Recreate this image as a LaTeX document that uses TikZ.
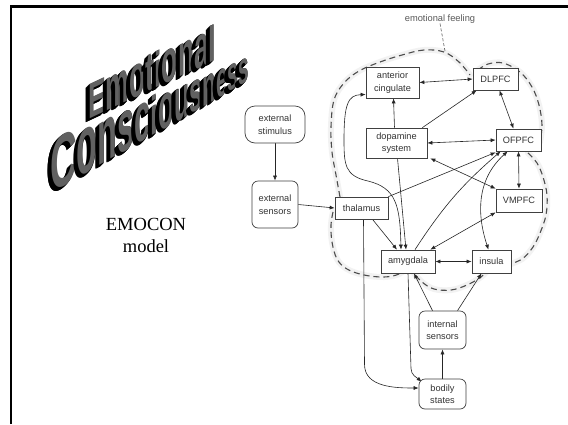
\documentclass[tikz,border=0pt]{standalone}
\usepackage{fontspec}
\setmainfont{Liberation Sans}
\newfontfamily\serifface{Liberation Serif}
\newfontfamily\titleface{Liberation Sans}
\usetikzlibrary{arrows.meta,backgrounds}
% one 3D "word art" letter: x, y (baseline-left), size, slant, content
\newcommand\artletter[5]{%
  \foreach \dd in {4,3.5,...,0.5}{%
    \begin{scope}[shift={(#1,#2)},xshift=-\dd pt,yshift=-\dd pt,yslant=#4]
      \node[anchor=base west,inner sep=0pt,transform shape,text=black,
        font=\titleface\bfseries\fontsize{#3}{#3}\selectfont] {#5};
    \end{scope}}%
  \begin{scope}[shift={(#1,#2)},yslant=#4]
    \node[anchor=base west,inner sep=0pt,transform shape,text=black!62,
      font=\titleface\bfseries\fontsize{#3}{#3}\selectfont] {#5};
  \end{scope}}
\begin{document}
\begin{tikzpicture}[x=1pt,y=-1pt,
  >={Latex[length=5pt,width=4pt]},
  box/.style={draw=black!75,line width=0.7pt,fill=white,text=black!80,
    font=\fontsize{9.2}{12.5}\selectfont,align=center,inner sep=0pt},
  rbox/.style={box,rounded corners=6pt},
  conn/.style={draw=black!85,line width=0.6pt},
  cloudline/.style={dash pattern=on 6pt off 4pt,line width=1.1pt,draw=black!70},
  glow/.style={line width=6pt,draw=black!5,line cap=round,line join=round}
]
\useasboundingbox (0,0) rectangle (568,424);

% ---------- nodes ----------
\node[box,minimum width=53pt,minimum height=31pt] (antc) at (392.5,82.5) {anterior\\cingulate};
\node[box,minimum width=45pt,minimum height=22pt] (dlpfc) at (495.5,79) {DLPFC};
\node[box,minimum width=61pt,minimum height=30pt] (dopa) at (396.5,143) {dopamine\\system};
\node[box,minimum width=45pt,minimum height=22pt] (ofpfc) at (518.5,140) {OFPFC};
\node[box,minimum width=46pt,minimum height=23pt] (vmpfc) at (519,200.5) {VMPFC};
\node[box,minimum width=53pt,minimum height=22pt] (thal) at (361.5,208) {thalamus};
\node[box,minimum width=54pt,minimum height=23pt] (amyg) at (408,261.5) {amygdala};
\node[box,minimum width=39pt,minimum height=23pt] (ins) at (491.5,261.5) {insula};
\node[rbox,minimum width=47pt,minimum height=38pt] (intsens) at (442.5,330) {internal\\sensors};
\node[rbox,minimum width=47pt,minimum height=30pt] (bod) at (442.5,394) {bodily\\states};
\node[rbox,rounded corners=10pt,minimum width=60pt,minimum height=37pt] (extstim) at (275,124.5) {external\\stimulus};
\node[rbox,minimum width=46pt,minimum height=47pt] (extsens) at (275,204.5) {external\\sensors};
\node[inner sep=0pt,text=black!65,font=\fontsize{9.3}{11}\selectfont] (ef) at (440,19) {emotional feeling};
\coordinate (eftop) at (445,51);
\node[inner sep=0pt,align=center,font=\serifface\fontsize{18.5}{22}\selectfont] (emocon) at (146,235) {EMOCON\\model};

% ---------- title (word art with perspective) ----------
\gdef\lx{88}
\foreach \ch/\w/\v in {E/0.667/1,m/0.889/1.2,o/0.611/1.2,t/0.333/1.1,i/0.278/1,o/0.611/1.2,n/0.611/1.2,a/0.556/1.2,l/0.278/1}{
  \pgfmathsetmacro\lsz{50}
  \pgfmathsetmacro\lby{120-0.47*(\lx-88)}
  \artletter{\lx}{\lby}{\lsz}{0.47}{\scalebox{0.53}[\v]{\ch}}
  \pgfmathsetmacro\lnx{\lx+\w*\lsz*0.53}
  \xdef\lx{\lnx}
}
\gdef\lx{50}
\foreach \ch/\w/\v in {C/0.722/1,o/0.611/1.2,n/0.611/1.2,s/0.556/1.2,c/0.556/1.2,i/0.278/1,o/0.611/1.2,u/0.611/1.2,s/0.556/1.2,n/0.611/1.2,e/0.556/1.2,s/0.556/1.2,s/0.556/1.2}{
  \pgfmathsetmacro\lsz{74-39*(\lx-50)/200}
  \pgfmathsetmacro\lby{194-0.57*(\lx-50)}
  \artletter{\lx}{\lby}{\lsz}{0.57}{\scalebox{0.5}[\v]{\ch}}
  \pgfmathsetmacro\lnx{\lx+\w*\lsz*0.5}
  \xdef\lx{\lnx}
}

\begin{scope}[on background layer]
\fill[white] (0,0) rectangle (568,424);
% frame
\draw[line width=2.2pt] (11,424) -- (11,6.5) -- (568,6.5);

% cloud glow + dashes
\foreach \st in {glow,cloudline}{
  \draw[\st] plot[smooth,tension=0.6] coordinates {(340,197) (336,175) (332,152) (331,127) (334,100) (344,83) (359,71) (380,62) (402,55) (424,50) (444,52) (459,62) (470,75)};
  \draw[\st] plot[smooth,tension=0.6] coordinates {(478,70) (488,64) (503,63) (520,72) (532,87) (539,105) (542,125) (540,142)};
  \draw[\st] plot[smooth,tension=0.6] coordinates {(528,153) (537,163) (543,177) (547,195) (546,215) (540,233) (533,247) (522,259) (505,266)};
  \draw[\st] plot[smooth,tension=0.6] coordinates {(490,268) (481,277) (467,285) (451,290) (434,289) (422,282) (414,273) (410,265)};
  \draw[\st] plot[smooth,tension=0.6] coordinates {(333,212) (331,225) (332,242) (337,259) (347,269) (364,275) (384,277) (399,274) (409,266)};
}
\draw[black!65,line width=0.6pt,dash pattern=on 3pt off 2pt] (ef.south) -- (eftop);

% connectors
\draw[conn,->] (extstim) -- (extsens);
\draw[conn,->] (extsens.east) -- (thal.west);
\draw[conn,<->] (antc.east) -- (dlpfc.west);
\draw[conn,->] ([xshift=-2pt]dopa.north) -- ([xshift=1pt]antc.south);
\draw[conn,->] ([xshift=-5pt]dopa.north east) -- ([xshift=4pt]dlpfc.south west);
\draw[conn,<->] ([xshift=4pt]dlpfc.south) -- ([xshift=-5pt]ofpfc.north);
\draw[conn,<->] (dopa.east) -- (ofpfc.west);
\draw[conn,<->] (ofpfc.south) -- (vmpfc.north);
\draw[conn,<->] ([xshift=3pt]dopa.south east) -- (vmpfc.north west);
\draw[conn,->] (thal.north east) -- ([yshift=-1pt]ofpfc.south west);
\draw[conn,->] ([xshift=7pt]amyg.north) to[bend left=8] ([xshift=5pt]ofpfc.south west);
\draw[conn,<->] ([xshift=-3pt]ins.north) .. controls (477,215) and (476,180) .. ([xshift=12pt]ofpfc.south west);
\draw[conn,<->] (vmpfc.south west) -- ([xshift=-5pt]amyg.north east);
\draw[conn,->] ([xshift=11pt]thal.south) -- ([xshift=-11pt]amyg.north);
\draw[conn,->] ([xshift=1pt]dopa.south) -- ([xshift=-2pt]amyg.north);
\draw[conn,<->] ([xshift=-7pt]amyg.north) .. controls (400,205) and (396,188) .. (368,181)
   .. controls (345,176) and (344,165) .. (344,140)
   .. controls (344,104) and (348,95) .. ([yshift=-12pt]antc.west);
\draw[conn,->] ([xshift=2pt]thal.south) -- ++(1,145) to[out=-90,in=180] ([yshift=6pt]bod.west);
\draw[conn,->] (amyg.south) -- ++(3,95) to[out=-90,in=140] ([shift={(3pt,-3pt)}]bod.north west);
\draw[conn,->] ([xshift=-10pt]intsens.north) -- ([xshift=6pt]amyg.south);
\draw[conn,->] ([xshift=15pt]intsens.north) -- ([xshift=-10pt]ins.south);
\draw[conn,->] (bod) -- (intsens);
\draw[conn,<->] (amyg.east) -- (ins.west);
\end{scope}
\end{tikzpicture}
\end{document}
